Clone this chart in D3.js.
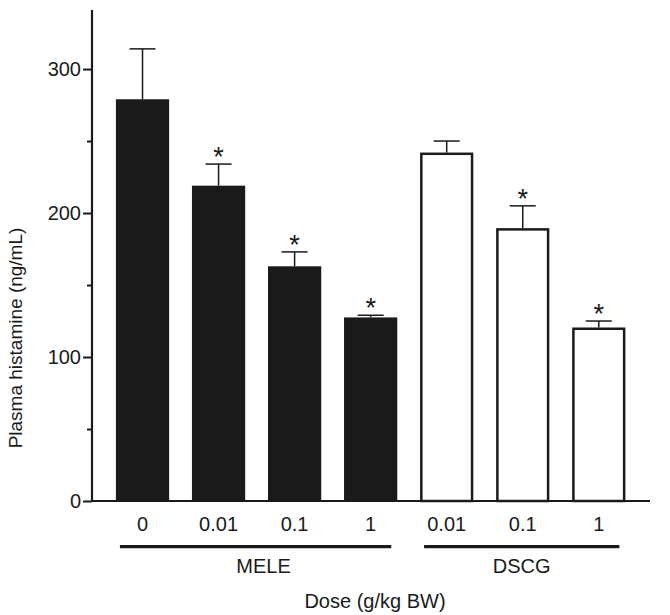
<!DOCTYPE html>
<html><head><meta charset="utf-8">
<script src="https://cdn.jsdelivr.net/npm/d3@7"></script>
<style>body{margin:0;background:#fff}svg{display:block}text{font-family:"Liberation Sans",Arial,sans-serif;fill:#1a1a1a}</style>
</head><body><svg id="c" width="670" height="615"></svg>
<script>
const doses = ["0","0.01","0.1","1","0.01","0.1","1"];
const groups = ["MELE","MELE","MELE","MELE","DSCG","DSCG","DSCG"];
const means = [279, 219, 163, 127.5, 242, 189.5, 120.5];
const sems = [35, 15, 10, 1.5, 8, 15.5, 4.5];
const significant = [false, true, true, true, false, true, true];
const yTicks = [0, 100, 200, 300];
const yMinorTicks = [50, 150, 250];
const groupNames = ["MELE", "DSCG"];

const svg = d3.select("#c");
const ink = "#1a1a1a";
const x = d3.scaleBand().domain(d3.range(means.length)).range([104.5, 636.8]).paddingInner(0.3).paddingOuter(0.15);
const y = d3.scaleLinear().domain([0, 341]).range([501, 10]);
const xAxisLeft = 92, xAxisRight = 650;
const cx = i => x(i) + x.bandwidth()/2;

// bars
svg.append("g").selectAll("rect").data(means).join("rect")
  .attr("x", (d,i)=> groups[i]==="MELE" ? x(i) : x(i)+1.25)
  .attr("width", (d,i)=> groups[i]==="MELE" ? x.bandwidth() : x.bandwidth()-2.5)
  .attr("y", (d,i)=> groups[i]==="MELE" ? y(d) : y(d)+1.25)
  .attr("height", (d,i)=> groups[i]==="MELE" ? y(0)-y(d) : y(0)-y(d)-1.25)
  .attr("fill", (d,i)=> groups[i]==="MELE" ? ink : "#fff")
  .attr("stroke", (d,i)=> groups[i]==="MELE" ? "none" : ink)
  .attr("stroke-width", 2.5);

// error bars
const eb = svg.append("g").attr("stroke", ink).attr("stroke-width", 1.5);
means.forEach((m,i)=>{
  eb.append("line").attr("x1",cx(i)).attr("x2",cx(i)).attr("y1",y(m)).attr("y2",y(m+sems[i]));
  eb.append("line").attr("x1",cx(i)-13).attr("x2",cx(i)+13).attr("y1",y(m+sems[i])).attr("y2",y(m+sems[i]));
  if (significant[i]) {
    svg.append("text").attr("x",cx(i)).attr("y",y(m+sems[i])+2).attr("text-anchor","middle")
      .attr("font-size",27).text("*");
  }
});

// y axis
const yAxis = d3.axisLeft(y).tickValues(yTicks).tickSize(9).tickPadding(2).tickFormat(d3.format("d"));
const ga = svg.append("g").attr("transform",`translate(${xAxisLeft},0)`).call(yAxis);
ga.select(".domain").remove();
ga.selectAll("line").attr("stroke",ink).attr("stroke-width",2);
ga.selectAll("text").attr("font-size",20).attr("fill",ink);
const gm = svg.append("g").attr("transform",`translate(${xAxisLeft},0)`).call(d3.axisLeft(y).tickValues(yMinorTicks).tickSize(5).tickFormat(""));
gm.select(".domain").remove();
gm.selectAll("line").attr("stroke",ink).attr("stroke-width",2);
svg.append("line").attr("x1",xAxisLeft).attr("x2",xAxisLeft).attr("y1",y(341)).attr("y2",y(0)).attr("stroke",ink).attr("stroke-width",2.2);
// x axis line
svg.append("line").attr("x1",xAxisLeft).attr("x2",xAxisRight).attr("y1",y(0)).attr("y2",y(0)).attr("stroke",ink).attr("stroke-width",2.2);

// x tick labels
svg.append("g").selectAll("text").data(doses).join("text")
  .attr("x",(d,i)=>cx(i)).attr("y",531).attr("text-anchor","middle")
  .attr("font-size",20).text(d=>d);

// group underlines and labels
groupNames.forEach(g=>{
  const idx = d3.range(groups.length).filter(i=>groups[i]===g);
  const a = d3.min(idx), b = d3.max(idx);
  const x1 = x(a)+4, x2 = x(b)+x.bandwidth()-6;
  svg.append("line").attr("x1",x1).attr("x2",x2).attr("y1",546.7).attr("y2",546.7).attr("stroke",ink).attr("stroke-width",3.3);
  svg.append("text").attr("x",(x1+x2)/2 + (g==="MELE" ? 8 : 0)).attr("y",573).attr("text-anchor","middle").attr("font-size",20).text(g);
});

// axis titles
svg.append("text").attr("x",375).attr("y",608).attr("text-anchor","middle").attr("font-size",20).text("Dose (g/kg BW)");
svg.append("text").attr("transform","translate(22,338) rotate(-90)").attr("text-anchor","middle").attr("font-size",19).text("Plasma histamine (ng/mL)");
</script></body></html>
